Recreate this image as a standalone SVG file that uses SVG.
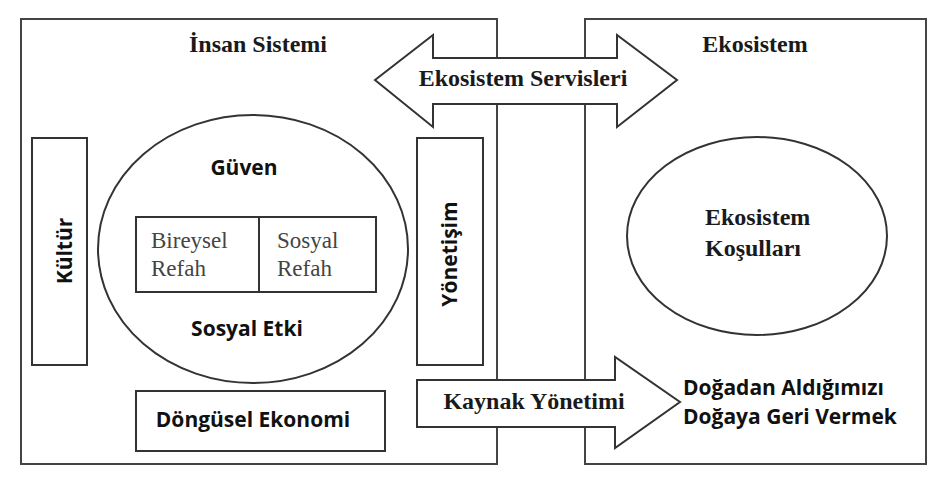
<svg xmlns="http://www.w3.org/2000/svg" width="941" height="494" viewBox="0 0 941 494">
<style>
.box{fill:none;stroke:#444;stroke-width:2}
.shape{fill:#fff;stroke:#333;stroke-width:2}
.serif{font-family:"Liberation Serif","Times New Roman",serif;font-weight:bold;font-size:24px;fill:#1a1a1a}
.serifr{font-family:"Liberation Serif","Times New Roman",serif;font-size:23px;fill:#444}
.sans{font-family:"Open Sans","Liberation Sans",sans-serif;font-weight:bold;font-size:21px;fill:#111}
</style>
<rect width="941" height="494" fill="#fff"/>
<g id="insan-sistemi">
<rect class="box" x="21" y="19" width="476" height="445"/>
<text class="serif" x="258" y="52" text-anchor="middle">İnsan Sistemi</text>
</g>
<g id="ekosistem">
<rect class="box" x="585" y="19" width="341" height="445"/>
<text class="serif" x="755" y="52" text-anchor="middle">Ekosistem</text>
</g>
<g id="kultur">
<rect class="shape" x="32" y="138" width="55" height="227"/>
<text class="sans" transform="translate(72,251) rotate(-90)" text-anchor="middle">Kültür</text>
</g>
<g id="yonetisim">
<rect class="shape" x="417" y="138" width="66" height="227"/>
<text class="sans" transform="translate(457,254) rotate(-90)" text-anchor="middle" font-size="22">Yönetişim</text>
</g>
<g id="guven">
<ellipse class="shape" cx="253" cy="249" rx="155" ry="134"/>
<text class="sans" x="244" y="175" text-anchor="middle" font-size="22">Güven</text>
<text class="sans" x="247" y="336" text-anchor="middle">Sosyal Etki</text>
</g>
<g id="refah">
<rect class="shape" x="136" y="217" width="240" height="75"/>
<line x1="259" y1="217" x2="259" y2="292" stroke="#333" stroke-width="2"/>
<text class="serifr" x="151" y="248">Bireysel</text>
<text class="serifr" x="151" y="276">Refah</text>
<text class="serifr" x="277" y="248">Sosyal</text>
<text class="serifr" x="277" y="276">Refah</text>
</g>
<g id="dongusel-ekonomi">
<rect class="shape" x="136" y="391" width="249" height="60"/>
<text class="sans" x="253" y="427" text-anchor="middle">Döngüsel Ekonomi</text>
</g>
<g id="ekosistem-kosullari">
<ellipse class="shape" cx="757" cy="236" rx="130" ry="99"/>
<text class="serif" x="705" y="225">Ekosistem</text>
<text class="serif" x="705" y="256">Koşulları</text>
</g>
<g id="dogaya-geri">
<text class="sans" x="683" y="395">Doğadan Aldığımızı</text>
<text class="sans" x="683" y="424">Doğaya Geri Vermek</text>
</g>
<g id="connectors">
<g id="ekosistem-servisleri">
<polygon class="shape" points="375,80 433,35 433,58 617,58 617,35 677,80 617,127 617,104 433,104 433,127"/>
<text class="serif" x="523" y="86" text-anchor="middle">Ekosistem Servisleri</text>
</g>
<g id="kaynak-yonetimi">
<polygon class="shape" points="417,380 615,380 615,357 680,402 615,448 615,427 417,427"/>
<text class="serif" x="534" y="409" text-anchor="middle" font-size="23">Kaynak Yönetimi</text>
</g>
</g>
</svg>
